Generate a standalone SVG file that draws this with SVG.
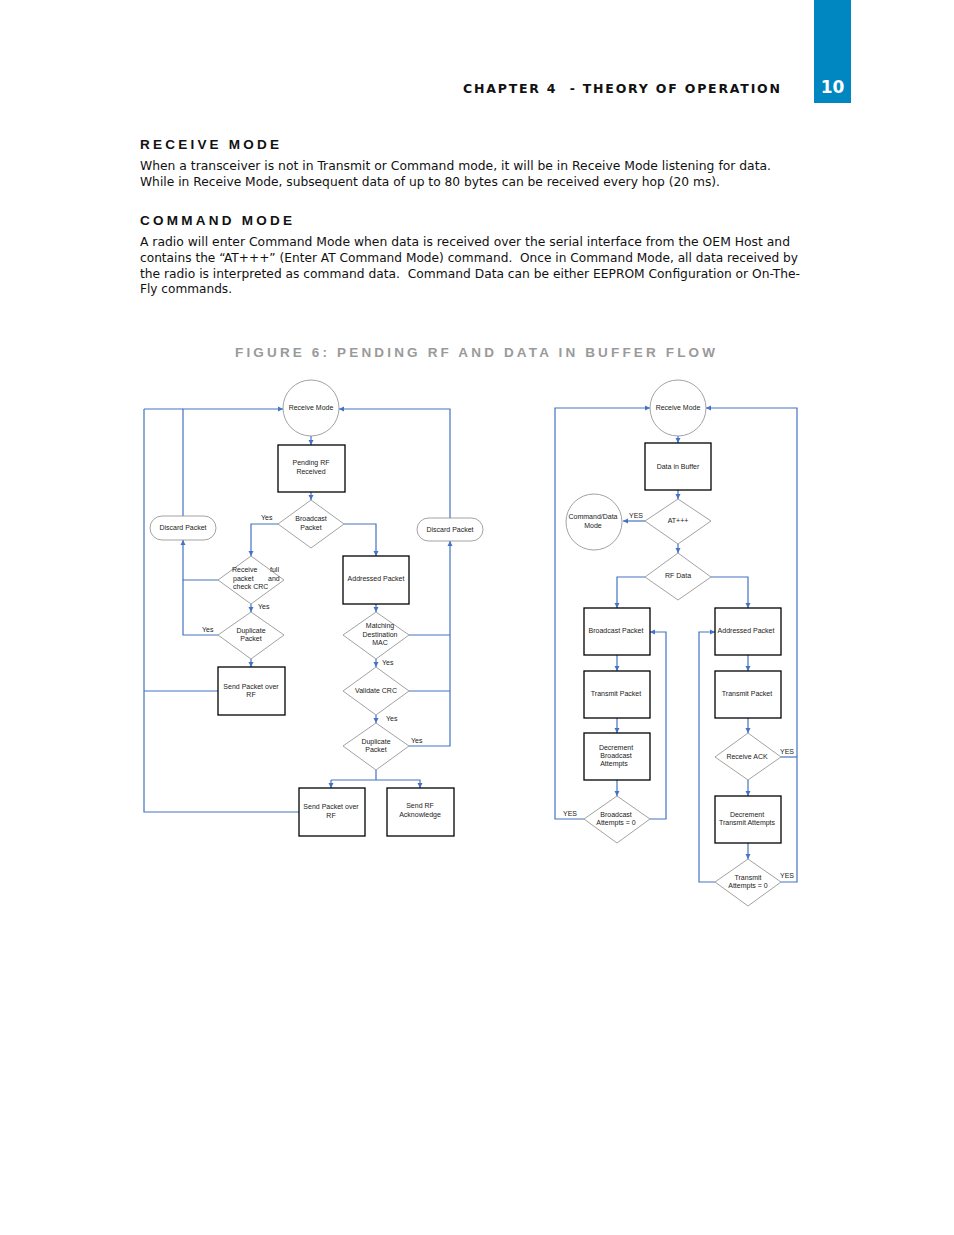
<svg xmlns="http://www.w3.org/2000/svg" width="954" height="1235" viewBox="0 0 954 1235">
<defs>
<marker id="ah" markerUnits="userSpaceOnUse" markerWidth="6" markerHeight="6" refX="5" refY="3" orient="auto">
<path d="M0,0.5 L5,3 L0,5.5 z" fill="#4472C4"/>
</marker>
<style>
.body{font-family:"DejaVu Sans",Verdana,sans-serif;font-size:12px;fill:#111;white-space:pre}
.hd{font-family:"DejaVu Sans",Verdana,sans-serif;font-size:12.5px;font-weight:bold;fill:#111;white-space:pre}
.sh{font-family:"Liberation Sans",Arial,sans-serif;font-size:13.5px;font-weight:bold;fill:#111}
.n{font-family:"Liberation Sans",Arial,sans-serif;font-size:7px;fill:#222;text-anchor:middle}
.lb{font-family:"Liberation Sans",Arial,sans-serif;font-size:7px;fill:#222}
.rc{fill:#fff;stroke:#000;stroke-width:1.3}
.dm{fill:#fff;stroke:#8a8a8a;stroke-width:0.8}
.cl{fill:#fff;stroke:#8a8a8a;stroke-width:0.8}
.cn path{fill:none;stroke:#4472C4;stroke-width:1.2}
.ar{marker-end:url(#ah)}
</style>
</defs>
<rect width="954" height="1235" fill="#fff"/>
<g id="header">
<rect x="814" y="0" width="37" height="103" fill="#0087C1"/>
<text x="832.5" y="93" font-family="DejaVu Sans,Verdana,sans-serif" font-size="17" font-weight="bold" fill="#fff" text-anchor="middle">10</text>
<text x="463" y="93" class="hd" font-size="12" textLength="317" lengthAdjust="spacing">CHAPTER 4  - THEORY OF OPERATION</text>
</g>
<g id="text">
<text x="140" y="149" class="sh" textLength="139" lengthAdjust="spacing">RECEIVE MODE</text>
<text x="140" y="170" class="body" textLength="631" lengthAdjust="spacingAndGlyphs">When a transceiver is not in Transmit or Command mode, it will be in Receive Mode listening for data.</text>
<text x="140" y="186" class="body" textLength="580" lengthAdjust="spacingAndGlyphs">While in Receive Mode, subsequent data of up to 80 bytes can be received every hop (20 ms).</text>
<text x="140" y="225" class="sh" textLength="152" lengthAdjust="spacing">COMMAND MODE</text>
<text x="140" y="246" class="body" textLength="650" lengthAdjust="spacingAndGlyphs">A radio will enter Command Mode when data is received over the serial interface from the OEM Host and</text>
<text x="140" y="262" class="body" textLength="658" lengthAdjust="spacingAndGlyphs">contains the “AT+++” (Enter AT Command Mode) command.  Once in Command Mode, all data received by</text>
<text x="140" y="278" class="body" textLength="660" lengthAdjust="spacingAndGlyphs">the radio is interpreted as command data.  Command Data can be either EEPROM Configuration or On-The-</text>
<text x="140" y="293" class="body" textLength="92" lengthAdjust="spacingAndGlyphs">Fly commands.</text>
<text x="235" y="357" class="sh" font-size="13" style="fill:#9a9a9a" textLength="480" lengthAdjust="spacing">FIGURE 6: PENDING RF AND DATA IN BUFFER FLOW</text>
</g>
<g id="connectors" class="cn">
<path class="ar" d="M311,436 V445"/>
<path class="ar" d="M311,492 V500"/>
<path class="ar" d="M278,524 H251 V556"/>
<path class="ar" d="M344,524 H376 V556"/>
<path class="ar" d="M218,580 H183 V540"/>
<path d="M218,635 H183 V580"/>
<path class="ar" d="M251,604 V612"/>
<path class="ar" d="M251,659 V667"/>
<path class="ar" d="M183,516 V409 H283"/>
<path d="M144,409 H183"/>
<path d="M144,409 V812 H299"/>
<path d="M218,691 H144"/>
<path class="ar" d="M376,604 V612"/>
<path class="ar" d="M376,659 V667"/>
<path class="ar" d="M376,715 V723"/>
<path d="M409,635 H450"/>
<path d="M409,691 H450"/>
<path class="ar" d="M409,746 H450 V541"/>
<path class="ar" d="M450,518 V409 H339"/>
<path d="M376,770 V780"/>
<path class="ar" d="M331,780 V788"/>
<path class="ar" d="M331,780 H420 V788"/>
<path class="ar" d="M678,436 V443"/>
<path class="ar" d="M678,490 V499"/>
<path class="ar" d="M645,521 H623"/>
<path class="ar" d="M678,544 V553"/>
<path class="ar" d="M645,577 H617 V608"/>
<path class="ar" d="M711,577 H748 V608"/>
<path class="ar" d="M617,655 V671"/>
<path class="ar" d="M617,718 V733"/>
<path class="ar" d="M617,780 V796"/>
<path class="ar" d="M584,819 H555 V408 H650"/>
<path class="ar" d="M650,819 H666 V632 H650"/>
<path class="ar" d="M748,655 V671"/>
<path class="ar" d="M748,718 V733"/>
<path class="ar" d="M748,780 V796"/>
<path class="ar" d="M748,843 V859"/>
<path d="M781,757 H797"/>
<path class="ar" d="M781,882 H797 V408 H706"/>
<path class="ar" d="M715,882 H699 V632 H715"/>
</g>
<g id="labels">
<text x="261" y="520" class="lb">Yes</text>
<text x="258" y="609" class="lb">Yes</text>
<text x="202" y="632" class="lb">Yes</text>
<text x="382" y="665" class="lb">Yes</text>
<text x="386" y="721" class="lb">Yes</text>
<text x="411" y="743" class="lb">Yes</text>
<text x="629" y="518" class="lb">YES</text>
<text x="563" y="816" class="lb">YES</text>
<text x="780" y="754" class="lb">YES</text>
<text x="780" y="878" class="lb">YES</text>
</g>
<g id="l-receive-mode"><circle class="cl" cx="311" cy="408" r="28"/><text x="311" y="410" class="n">Receive Mode</text></g>
<g id="l-pending"><rect class="rc" x="278" y="445" width="67" height="47"/><text x="311" y="465" class="n">Pending RF</text><text x="311" y="474" class="n">Received</text></g>
<g id="l-broadcast"><path class="dm" d="M311,500 L344,524 L311,548 L278,524 z"/><text x="311" y="521" class="n">Broadcast</text><text x="311" y="530" class="n">Packet</text></g>
<g id="l-discard-left"><rect class="cl" x="150" y="516" width="66" height="24" rx="12"/><text x="183" y="530" class="n">Discard Packet</text></g>
<g id="l-discard-right"><rect class="cl" x="417" y="518" width="66" height="23" rx="11.5"/><text x="450" y="532" class="n">Discard Packet</text></g>
<g id="l-receive-full"><path class="dm" d="M251,556 L284,580 L251,604 L218,580 z"/><text x="232" y="572" class="lb">Receive</text><text x="270" y="572" class="lb">full</text><text x="233" y="581" class="lb">packet</text><text x="268" y="581" class="lb">and</text><text x="233" y="589" class="lb">check CRC</text></g>
<g id="l-duplicate1"><path class="dm" d="M251,612 L284,635 L251,659 L218,635 z"/><text x="251" y="633" class="n">Duplicate</text><text x="251" y="641" class="n">Packet</text></g>
<g id="l-send1"><rect class="rc" x="218" y="667" width="67" height="48"/><text x="251" y="689" class="n">Send Packet over</text><text x="251" y="697" class="n">RF</text></g>
<g id="l-addressed"><rect class="rc" x="343" y="556" width="66" height="48"/><text x="376" y="581" class="n">Addressed Packet</text></g>
<g id="l-matching"><path class="dm" d="M376,612 L409,635 L376,659 L343,635 z"/><text x="380" y="628" class="n">Matching</text><text x="380" y="637" class="n">Destination</text><text x="380" y="645" class="n">MAC</text></g>
<g id="l-validate"><path class="dm" d="M376,667 L409,691 L376,715 L343,691 z"/><text x="376" y="693" class="n">Validate CRC</text></g>
<g id="l-duplicate2"><path class="dm" d="M376,723 L409,746 L376,770 L343,746 z"/><text x="376" y="744" class="n">Duplicate</text><text x="376" y="752" class="n">Packet</text></g>
<g id="l-send2"><rect class="rc" x="299" y="788" width="66" height="48"/><text x="331" y="809" class="n">Send Packet over</text><text x="331" y="818" class="n">RF</text></g>
<g id="l-ack"><rect class="rc" x="387" y="788" width="67" height="48"/><text x="420" y="808" class="n">Send RF</text><text x="420" y="817" class="n">Acknowledge</text></g>
<g id="r-receive-mode"><circle class="cl" cx="678" cy="408" r="28"/><text x="678" y="410" class="n">Receive Mode</text></g>
<g id="r-data-buffer"><rect class="rc" x="645" y="443" width="66" height="47"/><text x="678" y="469" class="n">Data in Buffer</text></g>
<g id="r-at"><path class="dm" d="M678,499 L711,521 L678,544 L645,521 z"/><text x="678" y="523" class="n">AT+++</text></g>
<g id="r-cmd-mode"><circle class="cl" cx="594" cy="522" r="28"/><text x="593" y="519" class="n">Command/Data</text><text x="593" y="528" class="n">Mode</text></g>
<g id="r-rf-data"><path class="dm" d="M678,553 L711,577 L678,600 L645,577 z"/><text x="678" y="578" class="n">RF Data</text></g>
<g id="r-broadcast"><rect class="rc" x="584" y="608" width="66" height="47"/><text x="616" y="633" class="n">Broadcast Packet</text></g>
<g id="r-transmit1"><rect class="rc" x="584" y="671" width="66" height="47"/><text x="616" y="696" class="n">Transmit Packet</text></g>
<g id="r-dec-broadcast"><rect class="rc" x="584" y="733" width="66" height="47"/><text x="616" y="750" class="n">Decrement</text><text x="616" y="758" class="n">Broadcast</text><text x="614" y="766" class="n">Attempts</text></g>
<g id="r-broadcast-zero"><path class="dm" d="M617,796 L650,819 L617,843 L584,819 z"/><text x="616" y="817" class="n">Broadcast</text><text x="616" y="825" class="n">Attempts = 0</text></g>
<g id="r-addressed"><rect class="rc" x="715" y="608" width="66" height="47"/><text x="746" y="633" class="n">Addressed Packet</text></g>
<g id="r-transmit2"><rect class="rc" x="715" y="671" width="66" height="47"/><text x="747" y="696" class="n">Transmit Packet</text></g>
<g id="r-ack"><path class="dm" d="M748,733 L781,757 L748,780 L715,757 z"/><text x="747" y="759" class="n">Receive ACK</text></g>
<g id="r-dec-transmit"><rect class="rc" x="715" y="796" width="66" height="47"/><text x="747" y="817" class="n">Decrement</text><text x="747" y="825" class="n">Transmit Attempts</text></g>
<g id="r-transmit-zero"><path class="dm" d="M748,859 L781,882 L748,906 L715,882 z"/><text x="748" y="880" class="n">Transmit</text><text x="748" y="888" class="n">Attempts = 0</text></g>
</svg>
